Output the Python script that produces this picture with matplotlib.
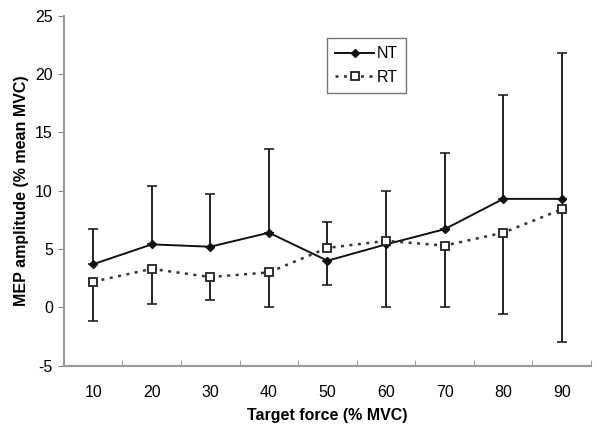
import numpy as np
import matplotlib
matplotlib.use("Agg")
import matplotlib.pyplot as plt
from matplotlib.ticker import FixedLocator

plt.rcParams['font.family'] = ['Liberation Sans', 'DejaVu Sans']
plt.rcParams['axes.unicode_minus'] = False

# data
force = ["10", "20", "30", "40", "50", "60", "70", "80", "90"]
nt_mean = [3.7, 5.4, 5.2, 6.4, 4.0, 5.4, 6.7, 9.3, 9.3]
rt_mean = [2.2, 3.3, 2.6, 3.0, 5.1, 5.7, 5.3, 6.4, 8.4]
# end point of the single error bar drawn for each point
nt_bar_end = [6.7, 10.4, 9.7, 13.6, 1.9, 10.0, 13.2, 18.2, 21.8]
rt_bar_end = [-1.2, 0.3, 0.6, 0.05, 7.3, 0.05, 0.05, -0.6, -3.0]

x = np.arange(1, len(force) + 1)
nt_mean = np.array(nt_mean)
rt_mean = np.array(rt_mean)
nt_end = np.array(nt_bar_end)
rt_end = np.array(rt_bar_end)

def split_err(mean, end):
    lo = np.where(end < mean, mean - end, 0)
    hi = np.where(end > mean, end - mean, 0)
    return [lo, hi]

fig = plt.figure(figsize=(5.97, 4.25), dpi=100)
ax = fig.add_axes([0.107, 0.1395, 0.883, 0.8235])

ax.errorbar(x, nt_mean, yerr=split_err(nt_mean, nt_end), fmt='none',
            ecolor='#222222', elinewidth=1.4, capsize=3.5, capthick=1.2, zorder=2)
ax.errorbar(x, rt_mean, yerr=split_err(rt_mean, rt_end), fmt='none',
            ecolor='#222222', elinewidth=1.4, capsize=3.5, capthick=1.2, zorder=2)

ax.plot(x, nt_mean, '-', color='#111111', lw=1.4, marker='D', ms=4.3,
        mfc='#111111', mec='#111111', label='NT', zorder=3)
ax.plot(x, rt_mean, linestyle=(0, (1.2, 2.2)), color='#333333', lw=1.8,
        marker='s', ms=5.3, mfc='white', mec='#222222', mew=1.3, label='RT', zorder=3)

ax.set_xlim(0.5, len(force) + 0.5)
ax.set_ylim(-5, 25)
ax.set_yticks(np.arange(-5, 26, 5))

ax.set_xticks(x)
ax.set_xticklabels(force)
ax.xaxis.set_minor_locator(FixedLocator(np.arange(0.5, len(force) + 1, 1)))
ax.tick_params(axis='x', which='major', length=0, pad=14, labelsize=11.5)
ax.tick_params(axis='x', which='minor', length=4, color='#888888', direction='in')
ax.tick_params(axis='y', length=4, color='#888888', labelsize=11.5, pad=4)

for side in ['top', 'right']:
    ax.spines[side].set_visible(False)
for side in ['left', 'bottom']:
    ax.spines[side].set_color('#999999')
    ax.spines[side].set_linewidth(1.5)

ax.set_xlabel('Target force (% MVC)', fontsize=11.5, fontweight='bold', labelpad=6)
ax.set_ylabel('MEP amplitude (% mean MVC)', fontsize=11.5, fontweight='bold', labelpad=4)

leg = ax.legend(loc='upper left', bbox_to_anchor=(0.5, 0.936), borderaxespad=0,
                fontsize=11.5, fancybox=False, edgecolor='#555555', handlelength=2.4,
                handletextpad=0.2, borderpad=0.5, labelspacing=0.55)
leg.get_frame().set_linewidth(1.0)

fig.savefig('out.png', dpi=100)
